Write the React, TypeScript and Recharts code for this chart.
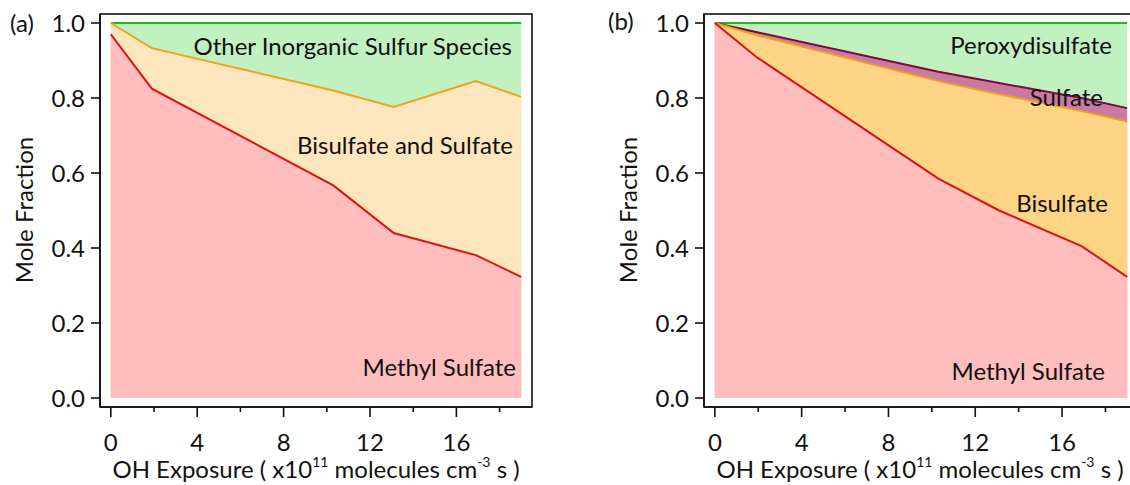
import React from 'react';
import { AreaChart, Area, XAxis, YAxis } from 'recharts';

// OH exposure (x10^11 molecules cm^-3 s)
const exposure = [0, 1.9, 10.3, 13.1, 16.9, 19.0];

// panel (a): cumulative mole fraction boundaries
const methylA = [0.97, 0.825, 0.567, 0.44, 0.381, 0.323];
const bisulfSulfA = [1.0, 0.933, 0.82, 0.776, 0.845, 0.803];
const otherA = [1, 1, 1, 1, 1, 1];

// panel (b): cumulative mole fraction boundaries
const methylB = [1.0, 0.91, 0.585, 0.5, 0.405, 0.323];
const bisulfB = [1.0, 0.968, 0.845, 0.81, 0.765, 0.737];
const sulfB = [1.0, 0.976, 0.87, 0.84, 0.8, 0.773];
const peroxyB = [1, 1, 1, 1, 1, 1];

const xTicks = [0, 2, 4, 6, 8, 10, 12, 14, 16, 18];
const yTicks = [0, 0.2, 0.4, 0.6, 0.8, 1.0];

const dataA = exposure.map((x, i) => ({ x, methyl: methylA[i], bisulf: bisulfSulfA[i], other: otherA[i] }));
const dataB = exposure.map((x, i) => ({ x, methyl: methylB[i], bisulf: bisulfB[i], sulf: sulfB[i], peroxy: peroxyB[i] }));

const FS = 24;
const INK = '#111';
const X_DOMAIN = [-0.5, 19.5];
const Y_DOMAIN = [-0.024, 1.024];

const XTick = (props: any) => {
  const { x, y, payload } = props;
  const major = payload.value % 4 === 0;
  return (
    <g>
      <line x1={x} x2={x} y1={y} y2={y + (major ? 10 : 5)} stroke={INK} strokeWidth={1.6} />
      {major && (
        <text x={x} y={y + 44} textAnchor="middle" fontSize={FS} fill={INK}>
          {payload.value}
        </text>
      )}
    </g>
  );
};

function Axes({ yWidth }: { yWidth: number }) {
  return (
    <>
      <XAxis dataKey="x" type="number" domain={X_DOMAIN} ticks={xTicks} interval={0} height={78}
        tickSize={0} tickMargin={0} tick={XTick} allowDataOverflow
        axisLine={{ stroke: INK, strokeWidth: 1.6 }} />
      <YAxis type="number" domain={Y_DOMAIN} ticks={yTicks} width={yWidth} tickSize={9} tickMargin={6}
        allowDataOverflow tickFormatter={(v: number) => v.toFixed(1)}
        tick={{ fill: INK, fontSize: FS }} tickLine={{ stroke: INK, strokeWidth: 1.6 }}
        axisLine={{ stroke: INK, strokeWidth: 1.6 }} />
    </>
  );
}

const XTitle = ({ cx }: { cx: number }) => (
  <text x={cx} y={478} textAnchor="middle" fontSize={FS} fill={INK}>
    OH Exposure ( x10<tspan fontSize={14} dy={-11}>11</tspan>
    <tspan dy={11}> molecules cm</tspan>
    <tspan fontSize={14} dy={-11}>-3</tspan>
    <tspan dy={11}> s )</tspan>
  </text>
);

const YTitle = ({ cx }: { cx: number }) => (
  <text x={cx} y={210} transform={`rotate(-90 ${cx} 210)`} textAnchor="middle" dominantBaseline="central"
    fontSize={FS} fill={INK}>
    Mole Fraction
  </text>
);

const Note = ({ x, y, children }: any) => (
  <text x={x} y={y} textAnchor="end" fontSize={FS} fill={INK}>{children}</text>
);

export default function App() {
  return (
    <div style={{ position: 'absolute', left: 0, top: 0, width: 1130, height: 485, overflow: 'hidden',
      background: '#fff', fontFamily: 'Lato, sans-serif' }}>
      <div style={{ position: 'absolute', left: 0, top: 0 }}>
        <AreaChart width={565} height={485} data={dataA} margin={{ top: 14, right: 33, bottom: 0, left: 0 }}>
          {Axes({ yWidth: 100 })}
          <Area type="linear" dataKey="other" baseValue={0} fill="#c1f0c1" fillOpacity={1} stroke="#1fb81f" strokeWidth={2} isAnimationActive={false} />
          <Area type="linear" dataKey="bisulf" baseValue={0} fill="#fde6bd" fillOpacity={1} stroke="#efa21a" strokeWidth={2} isAnimationActive={false} />
          <Area type="linear" dataKey="methyl" baseValue={0} fill="#ffbdbd" fillOpacity={1} stroke="#d81414" strokeWidth={2} isAnimationActive={false} />
          <text x={10} y={32} fontSize={FS} fill={INK}>(a)</text>
          <YTitle cx={23} />
          <XTitle cx={316} />
        </AreaChart>
      </div>
      <div style={{ position: 'absolute', left: 600, top: 0 }}>
        <AreaChart width={540} height={485} data={dataB} margin={{ top: 14, right: 2, bottom: 0, left: 0 }}>
          {Axes({ yWidth: 104 })}
          <Area type="linear" dataKey="peroxy" baseValue={0} fill="#c1f0c1" fillOpacity={1} stroke="#1fb81f" strokeWidth={2} isAnimationActive={false} />
          <Area type="linear" dataKey="sulf" baseValue={0} fill="#c97aa0" fillOpacity={1} stroke="#7d0a3a" strokeWidth={2} isAnimationActive={false} />
          <Area type="linear" dataKey="bisulf" baseValue={0} fill="#fdd486" fillOpacity={1} stroke="#f0a21a" strokeWidth={2} isAnimationActive={false} />
          <Area type="linear" dataKey="methyl" baseValue={0} fill="#ffbdbd" fillOpacity={1} stroke="#d81414" strokeWidth={2} isAnimationActive={false} />
          <text x={8} y={30} fontSize={FS} fill={INK}>(b)</text>
          <YTitle cx={27} />
          <XTitle cx={320} />
        </AreaChart>
      </div>
      {/* plot frames and in-plot annotations */}
      <svg width={1130} height={485} style={{ position: 'absolute', left: 0, top: 0, pointerEvents: 'none' }}>
        <rect x={100} y={14} width={432} height={393} fill="none" stroke={INK} strokeWidth={1.6} />
        <rect x={704} y={14} width={434} height={393} fill="none" stroke={INK} strokeWidth={1.6} />
        <Note x={512} y={55}>Other Inorganic Sulfur Species</Note>
        <Note x={513} y={154}>Bisulfate and Sulfate</Note>
        <Note x={516} y={376}>Methyl Sulfate</Note>
        <Note x={1112} y={54}>Peroxydisulfate</Note>
        <Note x={1103} y={106}>Sulfate</Note>
        <Note x={1108} y={212}>Bisulfate</Note>
        <Note x={1105} y={380}>Methyl Sulfate</Note>
      </svg>
    </div>
  );
}
